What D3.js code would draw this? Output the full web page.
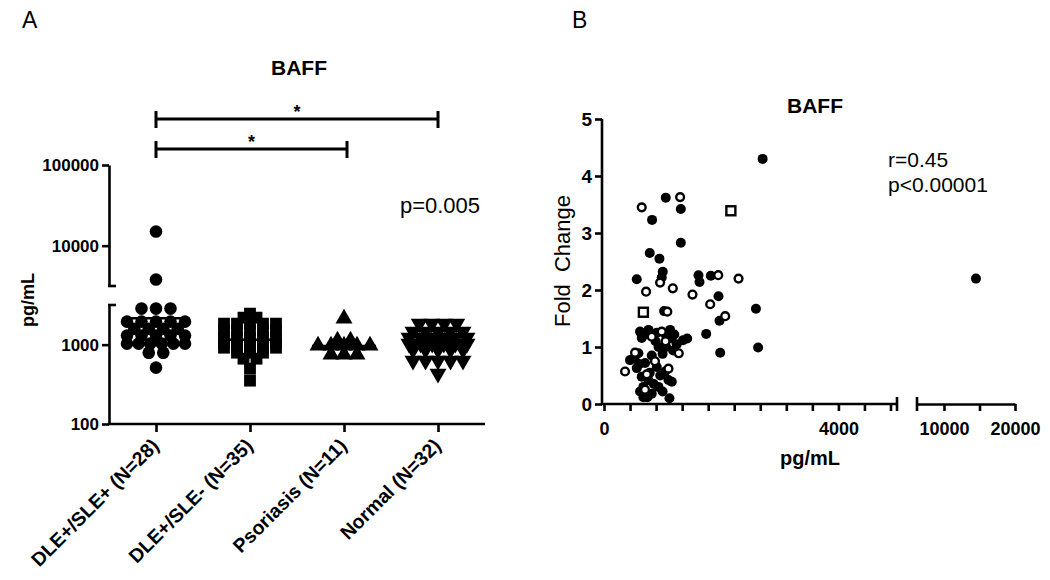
<!DOCTYPE html>
<html>
<head>
<meta charset="utf-8">
<script src="https://cdn.jsdelivr.net/npm/d3@7"></script>
<style>
  body { margin: 0; background: #fff; }
  svg { display: block; }
  text { font-family: "Liberation Sans", Arial, sans-serif; fill: #000; }
</style>
</head>
<body>
<svg id="chart" width="1050" height="580"></svg>
<script>
// ---------------- DATA ----------------
// Panel A: BAFF serum levels (pg/mL)
const categories = ["DLE+/SLE+ (N=28)", "DLE+/SLE- (N=35)", "Psoriasis (N=11)", "Normal (N=32)"];
const groupDleSle = [15000, 3800, 2850, 2850, 2850, 1950, 1950, 1950, 1950, 1950, 1590, 1590, 1590, 1590,
  1300, 1300, 1300, 1300, 1300, 1030, 1030, 1030, 1030, 1030, 1030, 790, 790, 513];
const groupDleOnly = [2460, 2190, 2190, 1840, 1840, 1840, 1840, 1840, 1500, 1500, 1500, 1500, 1500,
  1225, 1225, 1225, 1225, 1225, 1030, 1030, 1030, 1030, 1030, 916, 916, 916, 916, 916, 793, 793, 793,
  666, 666, 498, 352];
const groupPsoriasis = [2127, 1123, 1123, 971, 971, 971, 971, 971, 748, 748, 748];
const groupNormal = [1840, 1840, 1840, 1840, 1458, 1458, 1458, 1458, 1458, 1225, 1225, 1225, 1225, 1225, 1225,
  1030, 1030, 1030, 1030, 1030, 1030, 865, 865, 865, 865, 865, 628, 628, 628, 628, 628, 431];
const centerLines = [2150, 1150, 960, 1020];
const yTicksLowA = [100, 1000];
const yTicksHighA = [10000, 100000];
const sigBars = [ { from: 0, to: 3, label: "*" }, { from: 0, to: 2, label: "*" } ];

// Panel B: BAFF pg/mL vs fold change
const filledPts = [
  [2707,4.30],[1054,3.62],[1311,3.42],[820,3.23],[1311,2.83],[781,2.65],[946,2.55],[1003,2.32],[985,2.22],
  [559,2.19],[1612,2.26],[1630,2.14],[1823,2.25],[1954,1.89],[2593,1.67],[1971,1.46],[1744,1.23],[1983,0.90],
  [2630,0.99],[1420,1.15],[1026,1.63],[1117,0.10],[14500,2.20],
  [615,1.27],[644,1.16],[1128,1.30],[1060,1.20],[1242,1.05],[1060,1.00],[1180,0.94],[1000,0.88],[587,0.89],
  [444,0.77],[701,0.72],[815,0.85],[900,0.65],[559,0.63],[1043,0.57],[1100,0.42],[758,0.42],[644,0.48],
  [929,0.30],[615,0.22],[672,0.30],[815,0.18],[672,0.12],[1157,0.39],
  [760,1.30],[700,1.22],[880,1.10],[930,1.00],[1150,1.15],[1200,1.22],[520,0.80],[600,0.70],[780,0.55],
  [960,0.50],[850,0.35],[1000,0.22],[740,0.12],[900,1.25],[1350,1.12]
];
const openPts = [
  [644,3.45],[1299,3.63],[1949,2.26],[2296,2.20],[1510,1.92],[1812,1.75],[2068,1.54],[718,1.97],[1174,2.03],
  [957,2.13],[1276,0.89],[359,0.57],[1080,1.62],[985,1.27],[815,1.18],[530,0.90],[1100,0.62],[730,0.52],
  [700,0.25],[870,0.75],[1050,1.10]
];
const squarePts = [[2165,3.39],[672,1.61]];
const yTicksB = [0, 1, 2, 3, 4, 5];
const xLabelsB1 = [0, 4000];
const xTicksB2 = [10000, 15000, 20000];
const xLabelsB2 = [10000, 20000];

// ---------------- DRAW ----------------
const svg = d3.select("#chart");
const FONT = '"Liberation Sans", Arial, sans-serif';

function styleAxis(g, fs) {
  g.selectAll("path.domain").attr("stroke", "#000").attr("stroke-width", 2.6);
  g.selectAll(".tick line").attr("stroke", "#000").attr("stroke-width", 2.6);
  g.selectAll(".tick text").attr("font-family", FONT).attr("font-weight", "bold")
    .attr("font-size", fs).attr("fill", "#000");
}

// ===== Panel A =====
const yLow = d3.scaleLog().domain([100, 3162]).range([424, 305]);
const yHigh = d3.scaleLog().domain([3162, 100000]).range([286, 165]);
const yA = v => (v < 3162 ? yLow(v) : yHigh(v));
const xA = d3.scalePoint().domain(categories).range([109, 485]).padding(0.5);

svg.append("text").attr("x", 22).attr("y", 28).attr("font-size", 23).text("A");
svg.append("text").attr("x", 299).attr("y", 75).attr("text-anchor", "middle")
  .attr("font-size", 21).attr("font-weight", "bold").text("BAFF");

const gyl = svg.append("g").attr("transform", "translate(109,0)")
  .call(d3.axisLeft(yLow).tickValues(yTicksLowA).tickFormat(d3.format("d")).tickSize(7).tickSizeOuter(0).tickPadding(3));
styleAxis(gyl, 17);
const gyh = svg.append("g").attr("transform", "translate(109,0)")
  .call(d3.axisLeft(yHigh).tickValues(yTicksHighA).tickFormat(d3.format("d")).tickSize(7).tickSizeOuter(0).tickPadding(3));
styleAxis(gyh, 17);
[yHigh.range()[0], yLow.range()[1]].forEach(y => {
  svg.append("line").attr("x1", 108).attr("x2", 116).attr("y1", y).attr("y2", y)
    .attr("stroke", "#000").attr("stroke-width", 2.6);
});

const gxa = svg.append("g").attr("transform", "translate(0,424)")
  .call(d3.axisBottom(xA).tickSize(8).tickSizeOuter(0).tickFormat(""));
styleAxis(gxa, 17);
gxa.select("path.domain").attr("d", "M107.7,0H485");

categories.forEach(c => {
  svg.append("text").attr("transform", `translate(${xA(c) + 4},447) rotate(-45)`)
    .attr("text-anchor", "end").attr("font-size", 19.5).attr("font-weight", "bold").text(c);
});

svg.append("text").attr("transform", "translate(34,300) rotate(-90)").attr("text-anchor", "middle")
  .attr("font-size", 18).attr("font-weight", "bold").text("pg/mL");

// row-based scatter layout (GraphPad style), layout only
function rowLayout(ys, spacing, maxW) {
  const idx = ys.map((y, i) => i).sort((a, b) => ys[a] - ys[b]);
  const rows = [];
  idx.forEach(i => {
    const last = rows[rows.length - 1];
    if (last && Math.abs(ys[i] - ys[last[0]]) < 3) last.push(i); else rows.push([i]);
  });
  const out = new Array(ys.length).fill(0);
  rows.forEach(r => {
    const n = r.length;
    const s = n > 1 ? Math.min(spacing, maxW / (n - 1)) : 0;
    r.forEach((i, k) => { out[i] = (k - (n - 1) / 2) * s; });
  });
  return out;
}

const groups = [groupDleSle, groupDleOnly, groupPsoriasis, groupNormal];
const symbols = [
  { type: d3.symbolCircle, size: 125, rot: 0, sp: 14.5 },
  { type: d3.symbolSquare, size: 140, rot: 0, sp: 13 },
  { type: d3.symbolTriangle, size: 125, rot: 0, sp: 13 },
  { type: d3.symbolTriangle, size: 125, rot: 180, sp: 12.5 }
];
groups.forEach((vals, gi) => {
  const cx = xA(categories[gi]);
  const ys = vals.map(yA);
  const offs = rowLayout(ys, symbols[gi].sp, 58);
  const sym = d3.symbol().type(symbols[gi].type).size(symbols[gi].size);
  svg.append("g").selectAll("path").data(vals).join("path")
    .attr("d", sym)
    .attr("transform", (d, i) => `translate(${cx + offs[i]},${ys[i]}) rotate(${symbols[gi].rot})`)
    .attr("fill", "#000");
  svg.append("line").attr("x1", cx - 32).attr("x2", cx + 32)
    .attr("y1", yA(centerLines[gi])).attr("y2", yA(centerLines[gi]))
    .attr("stroke", "#000").attr("stroke-width", 2.5);
});

const barY = [119, 149];
sigBars.forEach((b, i) => {
  const x1 = xA(categories[b.from]), x2 = xA(categories[b.to]) + (i === 1 ? 3 : 0);
  const y = barY[i];
  const g = svg.append("g").attr("stroke", "#000").attr("stroke-width", 3);
  g.append("line").attr("x1", x1).attr("x2", x2).attr("y1", y).attr("y2", y);
  g.append("line").attr("x1", x1).attr("x2", x1).attr("y1", y - 8).attr("y2", y + 9);
  g.append("line").attr("x1", x2).attr("x2", x2).attr("y1", y - 8).attr("y2", y + 9);
  svg.append("text").attr("x", (x1 + x2) / 2).attr("y", y - 1).attr("text-anchor", "middle")
    .attr("font-size", 18).attr("font-weight", "bold").text(b.label);
});

svg.append("text").attr("x", 440).attr("y", 213).attr("text-anchor", "middle")
  .attr("font-size", 22).text("p=0.005");

// ===== Panel B =====
const xB1 = d3.scaleLinear().domain([0, 5000]).range([604, 897]);
const xB2 = d3.scaleLinear().domain([6200, 20000]).range([917, 1015]);
const xB = v => (v <= 5000 ? xB1(v) : xB2(v));
const yB = d3.scaleLinear().domain([0, 5]).range([404, 119]);

svg.append("text").attr("x", 572).attr("y", 28).attr("font-size", 23).text("B");
svg.append("text").attr("x", 815).attr("y", 113).attr("text-anchor", "middle")
  .attr("font-size", 21).attr("font-weight", "bold").text("BAFF");

const gyb = svg.append("g").attr("transform", "translate(602,0)")
  .call(d3.axisLeft(yB).tickValues(yTicksB).tickFormat(d3.format("d")).tickSize(7).tickSizeOuter(0).tickPadding(3));
styleAxis(gyb, 19);
gyb.select("path.domain").attr("d", "M0,119V405");

const minorB1 = d3.range(0, 5000, 4000 / 9);
const gxb1 = svg.append("g").attr("transform", "translate(0,404)")
  .call(d3.axisBottom(xB1).tickValues(minorB1).tickSize(7).tickSizeOuter(0).tickPadding(11)
    .tickFormat(d => xLabelsB1.some(v => Math.abs(v - d) < 1) ? d3.format("d")(Math.round(d)) : ""));
styleAxis(gxb1, 18);
gxb1.select("path.domain").attr("d", "M601,0H897");
const gxb2 = svg.append("g").attr("transform", "translate(0,404)")
  .call(d3.axisBottom(xB2).tickValues(xTicksB2).tickSize(7).tickSizeOuter(0).tickPadding(11)
    .tickFormat(d => xLabelsB2.includes(d) ? d3.format("d")(d) : ""));
styleAxis(gxb2, 18);
[897, 917].forEach(x => {
  svg.append("line").attr("x1", x).attr("x2", x).attr("y1", 397).attr("y2", 411)
    .attr("stroke", "#000").attr("stroke-width", 2.6);
});

svg.append("text").attr("x", 810).attr("y", 465).attr("text-anchor", "middle")
  .attr("font-size", 20).attr("font-weight", "bold").text("pg/mL");
svg.append("text").attr("transform", "translate(570,261) rotate(-90)").attr("text-anchor", "middle")
  .attr("font-size", 22).style("white-space", "pre").text("Fold  Change");

svg.append("g").selectAll("circle").data(filledPts).join("circle")
  .attr("cx", d => xB(d[0])).attr("cy", d => yB(d[1])).attr("r", 5).attr("fill", "#000");
svg.append("g").selectAll("circle").data(openPts).join("circle")
  .attr("cx", d => xB(d[0])).attr("cy", d => yB(d[1])).attr("r", 3.9)
  .attr("fill", "#fff").attr("stroke", "#000").attr("stroke-width", 2.4);
svg.append("g").selectAll("rect").data(squarePts).join("rect")
  .attr("x", d => xB(d[0]) - 4.5).attr("y", d => yB(d[1]) - 4.5).attr("width", 9).attr("height", 9)
  .attr("fill", "#fff").attr("stroke", "#000").attr("stroke-width", 2.4);

svg.append("text").attr("x", 888).attr("y", 167).attr("font-size", 21).text("r=0.45");
svg.append("text").attr("x", 888).attr("y", 192).attr("font-size", 21).text("p<0.00001");
</script>
</body>
</html>
